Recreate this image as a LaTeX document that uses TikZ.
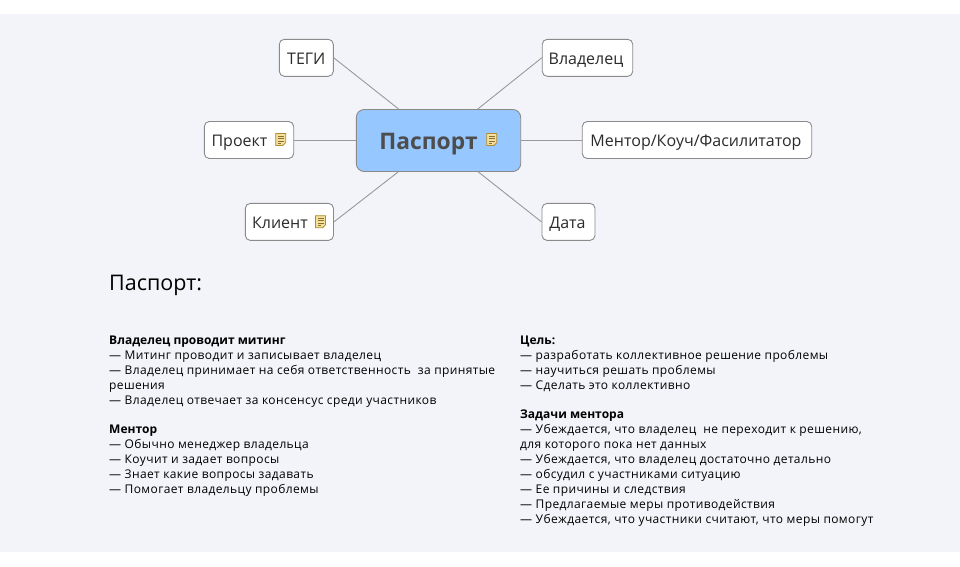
\documentclass[tikz,border=0pt]{standalone}
\usepackage{fontspec}
\setmainfont{Open Sans}
\newfontfamily\parafont[LetterSpace=3.2]{Open Sans}
\newfontfamily\headfont{Open Sans}
\newcommand{\parahead}[1]{{\headfont\bfseries #1}}
\definecolor{bandbg}{HTML}{F2F4F9}
\definecolor{hubfill}{HTML}{96C8FF}
\definecolor{edgegray}{HTML}{999999}
\definecolor{boxgray}{HTML}{8A8A8A}
\definecolor{hubtext}{HTML}{4D4D4D}
\definecolor{leaftext}{HTML}{2B2B2B}
\definecolor{notefill}{HTML}{F3DF9E}
\definecolor{noteedge}{HTML}{B08A2E}
\definecolor{noteline}{HTML}{8C6F2A}
\tikzset{
  leaf/.style={draw=boxgray,line width=0.9pt,fill=white,rounded corners=5pt,inner sep=0pt,text=leaftext,text height=14pt,text depth=1.6pt,font=\fontsize{16}{20}\selectfont},
  hub/.style={draw=boxgray,line width=0.9pt,fill=hubfill,rounded corners=8pt,inner sep=0pt,text=hubtext,text height=19pt,text depth=1.4pt,font=\fontsize{22.8}{28}\selectfont\bfseries},
  link/.style={draw=edgegray,line width=0.9pt},
  para/.style={anchor=north west,inner sep=0pt,align=left,text=black,font=\parafont\fontsize{12}{14.95}\selectfont},
  note/.pic={
    \draw[noteedge,fill=notefill,line width=0.8pt] (-5,-6) -- (5,-6) -- (5,3.2) -- (2,6) -- (-5,6) -- cycle;
    \draw[noteline,line width=0.7pt] (-3,-3.4) -- (3,-3.4) (-3,-1) -- (3,-1) (-3,1.4) -- (3,1.4) (-3,3.6) -- (0.5,3.6);
  }
}
\begin{document}
\begin{tikzpicture}[x=1pt,y=-1pt]
\useasboundingbox (0,0) rectangle (960,566);
\fill[white] (0,0) rectangle (960,566);
\fill[bandbg] (0,13.5) rectangle (960,552);
\node[hub,minimum width=164.4pt,minimum height=62pt] (hub) at (438.5,140.5) {Паспорт\hspace*{20pt}};
\node[leaf,minimum width=54pt,minimum height=37pt] (tegi) at (306.3,57.8) {ТЕГИ};
\node[leaf,minimum width=89.4pt,minimum height=37pt] (proj) at (249,140) {Проект\hspace*{19pt}};
\node[leaf,minimum width=88.2pt,minimum height=37pt] (client) at (289.4,221.9) {Клиент\hspace*{19pt}};
\node[leaf,minimum width=90.5pt,minimum height=37pt] (owner) at (587.5,57.8) {Владелец\hspace*{3pt}};
\node[leaf,minimum width=229.5pt,minimum height=37pt] (mentor) at (697,140) {Ментор/Коуч/Фасилитатор\hspace*{2pt}};
\node[leaf,minimum width=53pt,minimum height=37pt] (date) at (568.5,221.9) {Дата\hspace*{2pt}};
\draw[link] (hub) -- (tegi.east);
\draw[link] (hub.west) -- (proj.east |- hub.west);
\draw[link] (hub) -- (client.east);
\draw[link] (hub) -- (owner.west);
\draw[link] (hub.east) -- (mentor.west |- hub.east);
\draw[link] (hub) -- (date.west);
\pic at (491.7,139.5) {note};
\pic at (280.7,139.5) {note};
\pic at (320.5,221.7) {note};
\node[anchor=west,inner sep=0pt,font=\fontsize{21.5}{26}\selectfont,text=black] (title) at (109,285.5) {Паспорт:};
\node[para] (left1) at (109,335.5) {\parahead{Владелец проводит митинг}\\
— Митинг проводит и записывает владелец\\
— Владелец принимает на себя ответственность\ \ за принятые\\
решения\\
— Владелец отвечает за консенсус среди участников};
\node[para] (left2) at (109,425) {\parahead{Ментор}\\
— Обычно менеджер владельца\\
— Коучит и задает вопросы\\
— Знает какие вопросы задавать\\
— Помогает владельцу проблемы};
\node[para] (right1) at (520,335.5) {\parahead{Цель:}\\
— разработать коллективное решение проблемы\\
— научиться решать проблемы\\
— Сделать это коллективно};
\node[para] (right2) at (520,410) {\parahead{Задачи ментора}\\
— Убеждается, что владелец\ \ не переходит к решению,\\
для которого пока нет данных\\
— Убеждается, что владелец достаточно детально\\
— обсудил с участниками ситуацию\\
— Ее причины и следствия\\
— Предлагаемые меры противодействия\\
— Убеждается, что участники считают, что меры помогут};
\end{tikzpicture}
\end{document}
